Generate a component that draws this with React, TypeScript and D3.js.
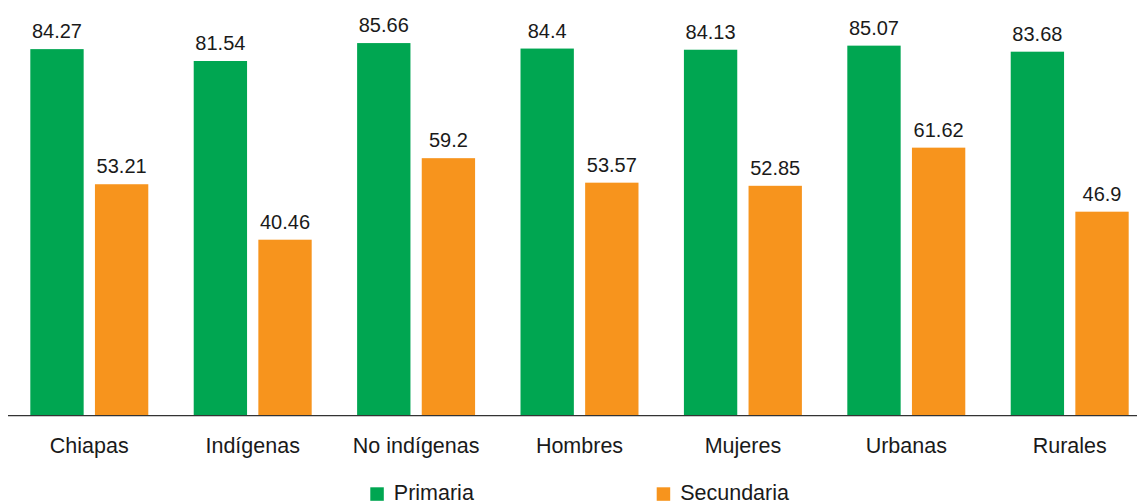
import React from "react";
import * as d3 from "d3";

const categories = ["Chiapas", "Indígenas", "No indígenas", "Hombres", "Mujeres", "Urbanas", "Rurales"];
const seriesNames = ["Primaria", "Secundaria"];
const primaria = [84.27, 81.54, 85.66, 84.4, 84.13, 85.07, 83.68];
const secundaria = [53.21, 40.46, 59.2, 53.57, 52.85, 61.62, 46.9];
const seriesColors = ["#00A651", "#F7941D"];

const W = 1137;
const H = 502;
const baseY = 415.7;
const FONT = "'Liberation Sans', Arial, Helvetica, sans-serif";

export default function App() {
  const step = 163.4;
  const padInner = 0.278;
  const x0 = d3
    .scaleBand<string>()
    .domain(categories)
    .range([7.6, 7.6 + step * categories.length])
    .paddingInner(padInner)
    .paddingOuter(padInner / 2);
  const x1 = d3
    .scaleBand<string>()
    .domain(seriesNames)
    .range([0, x0.bandwidth()])
    .paddingInner(0.1747)
    .paddingOuter(0);
  const y = d3.scaleLinear().domain([0, 100]).range([baseY, baseY - 435]);

  const series = [primaria, secundaria];

  const legendItems = [
    { name: seriesNames[0], color: seriesColors[0], x: 370.3 },
    { name: seriesNames[1], color: seriesColors[1], x: 656.7 },
  ];

  return (
    <svg
      width={W}
      height={H}
      style={{ position: "absolute", left: 0, top: 0, background: "#fff" }}
      fontFamily={FONT}
    >
      {categories.map((cat, i) => (
        <g key={cat} transform={`translate(${x0(cat)},0)`}>
          {seriesNames.map((s, j) => {
            const v = series[j][i];
            const bx = x1(s)!;
            return (
              <g key={s}>
                <rect
                  x={bx}
                  y={y(v)}
                  width={x1.bandwidth()}
                  height={baseY - y(v)}
                  fill={seriesColors[j]}
                />
                <text
                  x={bx + x1.bandwidth() / 2}
                  y={y(v) - 11}
                  textAnchor="middle"
                  fontSize={20}
                  fill="#1a1a1a"
                >
                  {v}
                </text>
              </g>
            );
          })}
          <text
            x={x0.bandwidth() / 2}
            y={452.7}
            textAnchor="middle"
            fontSize={21.5}
            fill="#1a1a1a"
          >
            {cat}
          </text>
        </g>
      ))}
      <line x1={8} x2={W} y1={baseY} y2={baseY} stroke="#333" strokeWidth={1.2} />
      {legendItems.map((it) => (
        <g key={it.name}>
          <rect x={it.x} y={487.3} width={13.5} height={13.5} fill={it.color} />
          <text x={it.x + 23.5} y={499.5} fontSize={21.5} fill="#1a1a1a">
            {it.name}
          </text>
        </g>
      ))}
    </svg>
  );
}
